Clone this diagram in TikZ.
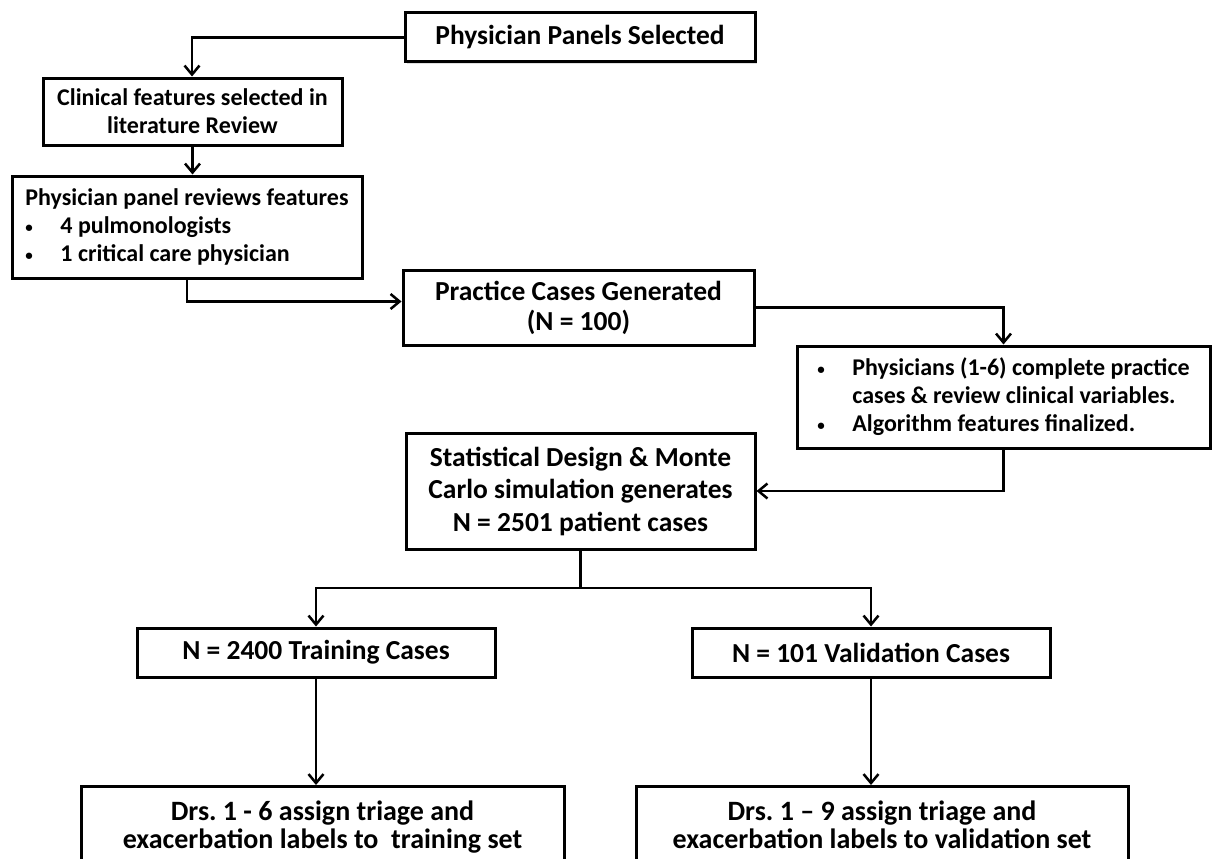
\documentclass[tikz,border=0pt]{standalone}
\usepackage{fontspec}
\setmainfont{Carlito}
\usetikzlibrary{arrows.meta,shadows,calc}
\frenchspacing
\newcommand{\smbul}{\makebox[35pt][l]{\raisebox{1pt}{\fontsize{15}{15}\selectfont\textbullet}}}
\begin{document}
\begin{tikzpicture}[x=1pt,y=-1pt,
  box/.style={draw=black, line width=3pt, fill=white,
    font=\bfseries\fontsize{27.5}{30}\selectfont, align=center, inner sep=0pt,
    drop shadow={shadow xshift=2pt,shadow yshift=-2pt,opacity=0.25}},
  small/.style={font=\bfseries\fontsize{24}{28}\selectfont},
  conn/.style={line width=2.5pt},
  arr/.style={conn,-{Straight Barb[length=9pt,width=15pt]}}
]
\useasboundingbox (0,0) rectangle (1215,859);
\clip (0,0) rectangle (1215,859);
\fill[white] (0,0) rectangle (1215,859);

\node[box, minimum width=350pt, minimum height=49pt] (A) at (580,37.5) {Physician Panels Selected};
\node[box, small, minimum width=299pt, minimum height=67pt] (B) at (192.5,111.5) {Clinical features selected in\\literature Review};
\node[box, small, minimum width=350pt, minimum height=102pt, align=left] (C) at (187,227)
  {Physician panel reviews features\\\smbul 4 pulmonologists\\\smbul 1 critical care physician};
\node[box, minimum width=351pt, minimum height=75pt] (D) at (578.5,307.5) {Practice Cases Generated\\(N = 100)};
\node[box, small, minimum width=413pt, minimum height=102pt, align=left] (E) at (1003.5,397)
  {\smbul Physicians (1-6) complete practice\\\hspace*{35pt}cases \& review clinical variables.\\\smbul Algorithm features finalized.};
\node[box, minimum width=349pt, minimum height=116pt, font=\bfseries\fontsize{27.5}{32.5}\selectfont] (F) at (580.5,491)
  {Statistical Design \& Monte\\Carlo simulation generates\\N = 2501 patient cases};
\node[box, minimum width=358pt, minimum height=49pt] (G) at (316,652.5) {N = 2400 Training Cases};
\node[box, minimum width=358pt, minimum height=49pt] (H) at (871,652.5) {N = 101 Validation Cases};
\node[box, minimum width=483pt, inner ysep=14pt, anchor=north, font=\bfseries\fontsize{28}{28}\selectfont] (I) at (322.5,785)
  {Drs. 1 - 6 assign triage and\\exacerbation labels to\ \ training set};
\node[box, minimum width=492pt, inner ysep=14pt, anchor=north, font=\bfseries\fontsize{28}{28}\selectfont] (J) at (882,785)
  {Drs. 1 – 9 assign triage and\\exacerbation labels to validation set};

\coordinate (split) at (580.5,588);

\draw[arr] (A.west) -| (B.north -| 192,0);
\draw[arr] (B.south) -- (B.south |- C.north);
\draw[arr] (C.south) |- ($(D.west)+(0,-6)$);
\draw[arr] (D.east) -| (E.north);
\draw[arr] (E.south) |- (F.east);
\draw[conn] (F.south) -- (split);
\draw[arr] (split) -| (G.north);
\draw[arr] (split) -| (H.north);
\draw[arr] (G.south) -- (G.south |- I.north);
\draw[arr] (H.south) -- (H.south |- J.north);
\end{tikzpicture}
\end{document}
